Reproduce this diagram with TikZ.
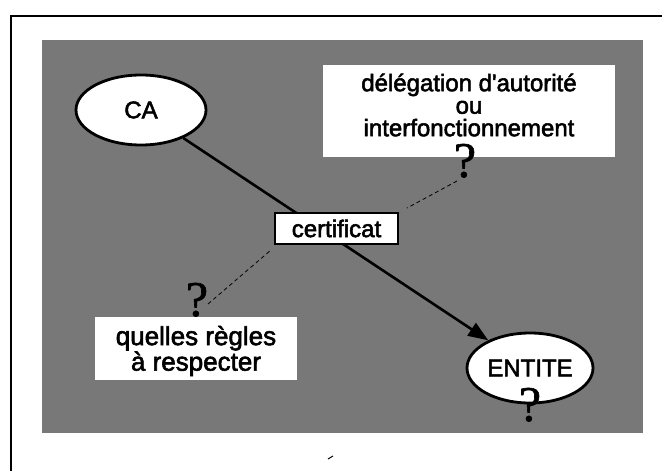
\documentclass[tikz,border=0pt]{standalone}
\usepackage{fontspec}
\setmainfont{Liberation Sans}
\newfontfamily\labfont[FakeBold=2.2]{Liberation Sans}
\newfontfamily\qfont[FakeBold=1.2]{Liberation Serif}
\usetikzlibrary{arrows.meta,shapes.geometric}
\begin{document}
\begin{tikzpicture}[x=1pt,y=-1pt,
  oval/.style={ellipse, draw=black, line width=2.8pt, fill=white, inner sep=0pt,
    minimum width=130pt, minimum height=70pt, font=\labfont\fontsize{24}{26}\selectfont},
  whitebox/.style={rectangle, fill=white, draw=none, inner sep=0pt},
  label/.style={align=center, inner sep=0pt},
  certbox/.style={rectangle, draw=black, line width=1.8pt, fill=white, inner sep=0pt,
    minimum width=123pt, minimum height=31pt, font=\labfont\fontsize{24}{26}\selectfont},
  qmark/.style={font=\qfont\fontsize{50}{50}\selectfont, inner sep=0pt, anchor=base, text depth=0pt},
  dashlink/.style={draw=black, line width=0.8pt, dash pattern=on 4pt off 3pt},
  mainarrow/.style={draw=black, line width=2.6pt, -{Triangle[length=20pt,width=15pt]}}
]
\useasboundingbox (0,0) rectangle (662,471);
% outer frame
\draw[line width=2pt] (11,471) -- (11,16) -- (662,16);
% grey panel
\fill[black!53] (42,40) rectangle (643,433);
% ovals
\node[oval] (ca) at (141,110) {CA};
\node[oval, minimum width=126pt] (entite) at (530,368) {ENTITE};
% main arrow
\draw[mainarrow] (ca) -- (entite);
% certificat
\node[certbox] (cert) at (336.5,228.5) {certificat};
% upper box
\node[whitebox, minimum width=292pt, minimum height=92pt] (dbox) at (469,111) {};
\node[label, font=\labfont\fontsize{24}{22.5}\selectfont] (dtext) at (469,105)
  {délégation d\textquotesingle autorité\\ou\\interfonctionnement};
% lower box
\node[whitebox, minimum width=202pt, minimum height=63pt] (qbox) at (196,348.5) {};
\node[label, font=\labfont\fontsize{26}{22}\selectfont] (qtext) at (196,351)
  {quelles règles\\à respecter};
% question marks
\node[qmark] (q1) at (465,177) {?};
\node[qmark] (q2) at (197,316) {?};
\node[qmark] (q3) at (530,421) {?};
% dashed links
\coordinate (d1) at (457,181);
\coordinate (d2) at (208,304);
\draw[dashlink] (d1) -- ([xshift=8pt,yshift=4pt]cert.north east);
\draw[dashlink] (d2) -- ([xshift=-3pt,yshift=-5pt]cert.south west);
% small scan mark
\draw[line width=1pt] (328,459) -- (333,456);
\end{tikzpicture}
\end{document}
